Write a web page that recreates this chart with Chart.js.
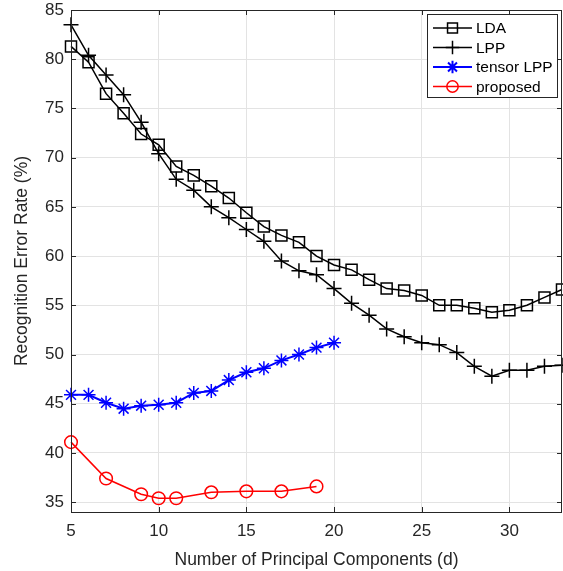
<!DOCTYPE html>
<html>
<head>
<meta charset="utf-8">
<script src="https://cdn.jsdelivr.net/npm/chart.js@4/dist/chart.umd.min.js"></script>
<style>
html,body{margin:0;padding:0;background:#fff;}
#wrap{width:563px;height:571px;}
</style>
</head>
<body>
<div id="wrap"><canvas id="c" width="563" height="571"></canvas></div>
<script>
// values
const dims = [5,6,7,8,9,10,11,12,13,14,15,16,17,18,19,20,21,22,23,24,25,26,27,28,29,30,31,32,33];
const lda = [81.3,79.7,76.5,74.5,72.4,71.3,69.1,68.2,67.1,65.9,64.4,63.0,62.1,61.4,60.0,59.1,58.6,57.6,56.7,56.5,56.0,55.0,55.0,54.7,54.3,54.5,55.0,55.8,56.6];
const lpp = [83.5,80.4,78.4,76.4,73.6,70.4,67.8,66.7,65.0,63.9,62.7,61.5,59.5,58.5,58.1,56.7,55.2,54.0,52.6,51.8,51.2,51.0,50.2,48.8,47.8,48.4,48.4,48.8,48.9];
const tensorDims = [5,6,7,8,9,10,11,12,13,14,15,16,17,18,19,20];
const tensorLpp = [45.9,45.9,45.1,44.5,44.8,44.9,45.1,46.1,46.3,47.4,48.2,48.6,49.4,50.0,50.7,51.2];
const propDims = [5,7,9,10,11,13,15,17,19];
const proposed = [41.1,37.4,35.8,35.4,35.4,36.0,36.1,36.1,36.6];
const xTicks = [5,10,15,20,25,30];
const yTicks = [35,40,45,50,55,60,65,70,75,80,85];

const pts = (xs, ys) => xs.map((x, i) => ({x: x, y: ys[i]}));
const FONT = '"Liberation Sans", Arial, sans-serif';
const txt = '#262626';

// MATLAB style box with inward ticks on all sides, and legend
const boxPlugin = {
  id: 'box',
  afterDraw(chart) {
    const ctx = chart.ctx, a = chart.chartArea;
    const xs = chart.scales.x, ys = chart.scales.y;
    ctx.save();
    ctx.strokeStyle = txt;
    ctx.lineWidth = 1;
    ctx.strokeRect(a.left + 0.5, a.top + 0.5, a.right - a.left - 1, a.bottom - a.top);
    ctx.beginPath();
    xTicks.forEach(v => {
      const p = Math.round(xs.getPixelForValue(v)) + 0.5;
      ctx.moveTo(p, a.bottom); ctx.lineTo(p, a.bottom - 5);
      ctx.moveTo(p, a.top); ctx.lineTo(p, a.top + 5);
    });
    yTicks.forEach(v => {
      const p = Math.round(ys.getPixelForValue(v)) + 0.5;
      ctx.moveTo(a.left, p); ctx.lineTo(a.left + 5, p);
      ctx.moveTo(a.right, p); ctx.lineTo(a.right - 5, p);
    });
    ctx.stroke();

    // legend
    const lx = 427, ly = 14, lw = 130, lh = 83;
    ctx.fillStyle = '#fff';
    ctx.fillRect(lx, ly, lw, lh);
    ctx.strokeStyle = txt;
    ctx.strokeRect(lx + 0.5, ly + 0.5, lw, lh);
    ctx.font = '15.5px ' + FONT;
    ctx.textBaseline = 'middle';
    chart.data.datasets.forEach((ds, i) => {
      const y = ly + 14 + i * 19.5;
      ctx.strokeStyle = ds.borderColor;
      ctx.lineWidth = ds.borderWidth;
      ctx.beginPath();
      ctx.moveTo(lx + 6, y); ctx.lineTo(lx + 45, y);
      ctx.stroke();
      ctx.fillStyle = 'rgba(0,0,0,0)';
      Chart.helpers.drawPoint(ctx, {
        pointStyle: ds.pointStyle, radius: ds.pointRadius * 0.9, borderWidth: ds.pointBorderWidth
      }, lx + 25.5, y);
      ctx.fillStyle = '#000';
      ctx.fillText(ds.label, lx + 49, y + 1);
    });
    ctx.restore();
  }
};

new Chart(document.getElementById('c'), {
  type: 'line',
  data: {
    datasets: [
      {label: 'LDA', data: pts(dims, lda), borderColor: '#000', borderWidth: 1.5, clip: false,
       pointStyle: 'rect', pointRadius: 7.8, pointBorderWidth: 1.5, pointBackgroundColor: 'rgba(0,0,0,0)', pointBorderColor: '#000'},
      {label: 'LPP', data: pts(dims, lpp), borderColor: '#000', borderWidth: 1.5, clip: false,
       pointStyle: 'cross', pointRadius: 7.5, pointBorderWidth: 1.5, pointBorderColor: '#000'},
      {label: 'tensor LPP', data: pts(tensorDims, tensorLpp), borderColor: '#0000ff', borderWidth: 2, clip: false,
       pointStyle: 'star', pointRadius: 7, pointBorderWidth: 1.5, pointBorderColor: '#0000ff'},
      {label: 'proposed', data: pts(propDims, proposed), borderColor: '#ff0000', borderWidth: 1.5, clip: false,
       pointStyle: 'circle', pointRadius: 6.3, pointBorderWidth: 1.5, pointBackgroundColor: 'rgba(0,0,0,0)', pointBorderColor: '#ff0000'}
    ]
  },
  options: {
    responsive: false,
    animation: false,
    layout: {autoPadding: false, padding: {top: 10, right: 1, left: 0, bottom: 0}},
    plugins: {legend: {display: false}, tooltip: {enabled: false}},
    elements: {line: {tension: 0}, point: {hoverRadius: 0}},
    scales: {
      x: {
        type: 'linear', min: 5, max: 33,
        afterBuildTicks: s => { s.ticks = xTicks.map(v => ({value: v})); },
        afterFit: s => { s.height = 59; s.paddingLeft = 0; s.paddingRight = 0; },
        grid: {color: '#e3e3e3', drawTicks: false},
        border: {display: false},
        ticks: {color: txt, font: {family: FONT, size: 17}, padding: 9, maxRotation: 0},
        title: {display: true, text: 'Number of Principal Components (d)', color: txt,
                font: {family: FONT, size: 17.5}, padding: {top: 9, bottom: 0}}
      },
      y: {
        type: 'linear', min: 34, max: 85,
        afterBuildTicks: s => { s.ticks = yTicks.map(v => ({value: v})); },
        afterFit: s => { s.width = 71; s.paddingTop = 0; s.paddingBottom = 0; },
        grid: {color: '#e3e3e3', drawTicks: false},
        border: {display: false},
        ticks: {color: txt, font: {family: FONT, size: 17}, padding: 7},
        title: {display: true, text: 'Recognition Error Rate (%)', color: txt,
                font: {family: FONT, size: 17.5}, padding: {top: 12, bottom: 0}}
      }
    }
  },
  plugins: [boxPlugin]
});
</script>
</body>
</html>
